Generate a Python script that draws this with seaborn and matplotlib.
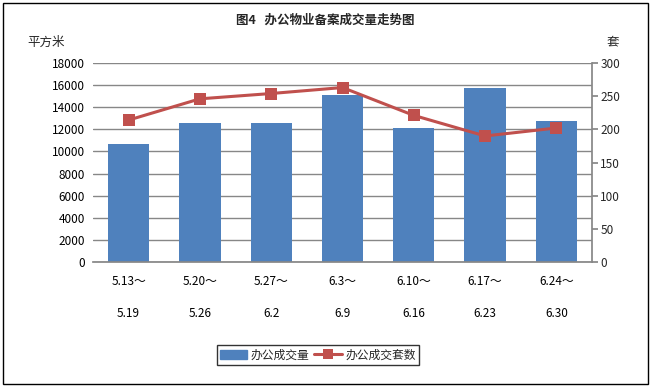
import matplotlib
matplotlib.use('Agg')
import matplotlib.pyplot as plt
import matplotlib.patches as mpatches
from matplotlib.lines import Line2D
import numpy as np
import pandas as pd
import seaborn as sns

weeks = ['5.13～\n\n5.19', '5.20～\n\n5.26', '5.27～\n\n6.2', '6.3～\n\n6.9',
         '6.10～\n\n6.16', '6.17～\n\n6.23', '6.24～\n\n6.30']
area = [10700, 12600, 12600, 15100, 12100, 15700, 12750]   # 平方米
units = [214, 246, 254, 263, 221, 190, 202]                # 套

bar_color = '#4F81BD'
line_color = '#C0504D'
grid_color = '#878787'

sns.set_theme(style='white')
plt.rcParams['font.family'] = ['Noto Sans CJK SC', 'DejaVu Sans']

df = pd.DataFrame({'week': weeks, 'area': area, 'units': units})
df['pos'] = np.arange(len(df))

fig = plt.figure(figsize=(6.51, 3.87), dpi=100)
ax = fig.add_axes([93 / 651, 1 - 262 / 387, (592 - 93) / 651, (262 - 63) / 387])

sns.barplot(data=df, x='week', y='area', color=bar_color, saturation=1,
            width=0.58, linewidth=0, ax=ax, zorder=2)
ax.set_ylim(0, 18000)
ax.set_yticks(range(0, 18001, 2000))
ax.yaxis.grid(True, color=grid_color, linewidth=1)
ax.set_axisbelow(True)
ax.set_xlim(-0.5, len(df) - 0.5)
ax.set_xlabel('')
ax.set_ylabel('')
for s in ['left', 'top', 'right']:
    ax.spines[s].set_visible(False)
ax.spines['bottom'].set_color(grid_color)
ax.tick_params(axis='both', length=0, labelsize=8.5, colors='black')
ax.tick_params(axis='y', pad=6)
ax.tick_params(axis='x', pad=9.5)
for t in ax.get_xticklabels():
    t.set_linespacing(1.3)

ax2 = ax.twinx()
sns.lineplot(data=df, x='pos', y='units', color=line_color, linewidth=2.2,
             marker='s', markersize=8.5, markeredgewidth=0, ax=ax2)
ax2.set_ylim(0, 300)
ax2.set_yticks(range(0, 301, 50))
ax2.set_xlim(-0.5, len(df) - 0.5)
ax2.set_xlabel('')
ax2.set_ylabel('')
for s in ['left', 'top', 'bottom']:
    ax2.spines[s].set_visible(False)
ax2.spines['right'].set_color(grid_color)
ax2.tick_params(axis='y', length=4, color=grid_color, labelsize=8.5, pad=2)
ax2.grid(False)

fig.text(0.5, 1 - 20 / 387, '图4   办公物业备案成交量走势图', ha='center', va='center',
         fontsize=9, fontweight='bold')
fig.text(46 / 651, 1 - 42 / 387, '平方米', ha='center', va='center', fontsize=9)
fig.text(613 / 651, 1 - 42 / 387, '套', ha='center', va='center', fontsize=9)

handles = [mpatches.Patch(color=bar_color, label='办公成交量'),
           Line2D([0], [0], color=line_color, linewidth=2.2, marker='s',
                  markersize=7, markeredgewidth=0, label='办公成交套数')]
leg = fig.legend(handles=handles, loc='center', bbox_to_anchor=(318 / 651, 1 - 355 / 387),
                 ncol=2, frameon=True, fancybox=False, fontsize=8.5,
                 handlelength=2.3, handletextpad=0.3, columnspacing=0.4,
                 borderpad=0.3)
leg.get_frame().set_edgecolor('black')
leg.get_frame().set_linewidth(1)

fig.patches.append(mpatches.Rectangle((3 / 651, 3 / 387), 1 - 6 / 651, 1 - 6 / 387,
                                      transform=fig.transFigure, fill=False,
                                      edgecolor='black', linewidth=1))

fig.savefig('out.png', dpi=100)
